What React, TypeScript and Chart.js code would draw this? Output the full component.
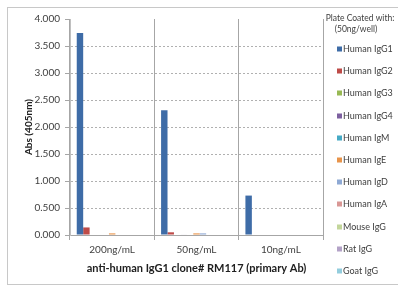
import React, { useEffect, useRef } from "react";
import { Chart, registerables } from "chart.js";

Chart.register(...registerables);

const categories = ["200ng/mL", "50ng/mL", "10ng/mL"];
const seriesNames = [
  "Human IgG1",
  "Human IgG2",
  "Human IgG3",
  "Human IgG4",
  "Human IgM",
  "Human IgE",
  "Human IgD",
  "Human IgA",
  "Mouse IgG",
  "Rat IgG",
  "Goat IgG",
];
const humanIgG1 = [3.74, 2.31, 0.73];
const humanIgG2 = [0.14, 0.05, 0];
const humanIgG3 = [0, 0, 0];
const humanIgG4 = [0, 0.01, 0];
const humanIgM = [0, 0, 0];
const humanIgE = [0.03, 0.03, 0];
const humanIgD = [0, 0.03, 0];
const humanIgA = [0, 0, 0];
const mouseIgG = [0, 0, 0];
const ratIgG = [0, 0, 0];
const goatIgG = [0, 0, 0];
const seriesValues = [
  humanIgG1, humanIgG2, humanIgG3, humanIgG4, humanIgM, humanIgE,
  humanIgD, humanIgA, mouseIgG, ratIgG, goatIgG,
];
const seriesColors = [
  "#3E6CA7", "#BE4B48", "#98B954", "#7D60A0", "#46AAC5", "#E8944A",
  "#8EA9D4", "#D99795", "#C3D69B", "#B3A2C7", "#93CDDD",
];
const yTicks = [0, 0.5, 1, 1.5, 2, 2.5, 3, 3.5, 4];
const xTitle = "anti-human IgG1 clone# RM117 (primary Ab)";
const yTitle = "Abs (405nm)";
const legendTitle = ["Plate Coated with:", "(50ng/well)"];

const FONT = "Lato, 'Open Sans', sans-serif";

const framePlugin = {
  id: "frameAndLegend",
  afterDraw(chart: any) {
    const ctx = chart.ctx;
    ctx.save();
    ctx.strokeStyle = "#c8c8c8";
    ctx.lineWidth = 1;
    ctx.strokeRect(7.5, 7.5, 400, 277);

    ctx.fillStyle = "#404040";
    ctx.font = `8.5px ${FONT}`;
    ctx.textAlign = "center";
    ctx.textBaseline = "middle";
    ctx.fillText(legendTitle[0], 360, 18);
    ctx.fillText(legendTitle[1], 356, 29);

    ctx.font = `9px ${FONT}`;
    ctx.textAlign = "left";
    chart.data.datasets.forEach((ds: any, i: number) => {
      const y = 49 + 22.2 * i;
      ctx.fillStyle = ds.backgroundColor;
      ctx.fillRect(337, Math.round(y) - 2.5, 5, 5);
      ctx.fillStyle = "#404040";
      ctx.fillText(ds.label, 343, y);
    });
    ctx.restore();
  },
};

export default function App() {
  const ref = useRef<HTMLCanvasElement>(null);

  useEffect(() => {
    if (!ref.current) return;
    const chart = new Chart(ref.current, {
      type: "bar",
      data: {
        labels: categories,
        datasets: seriesNames.map((name, i) => ({
          label: name,
          data: seriesValues[i],
          backgroundColor: seriesColors[i],
          borderWidth: 0,
          barPercentage: 1,
          categoryPercentage: 0.84,
        })),
      },
      options: {
        animation: false,
        responsive: false,
        devicePixelRatio: 1,
        layout: { padding: { left: 0, top: 19, right: 75, bottom: 0 } },
        plugins: {
          legend: { display: false },
          tooltip: { enabled: false },
        },
        scales: {
          x: {
            offset: true,
            grid: {
              offset: true,
              color: "#a6a6a6",
              tickLength: 5,
              tickColor: "#a6a6a6",
            },
            border: { color: "#a6a6a6" },
            ticks: {
              font: { family: FONT, size: 10 },
              color: "#404040",
              padding: 4,
            },
            title: {
              display: true,
              text: xTitle,
              font: { family: FONT, size: 11, weight: "bold" },
              color: "#202020",
              padding: { top: 0, bottom: 11 },
            },
            afterFit: (s: any) => {
              s.height = 51;
            },
          },
          y: {
            min: 0,
            max: 4,
            afterBuildTicks: (s: any) => {
              s.ticks = yTicks.map((v) => ({ value: v }));
            },
            ticks: {
              callback: (v: any) => Number(v).toFixed(3),
              font: { family: FONT, size: 10 },
              color: "#404040",
              padding: 5,
            },
            grid: {
              color: (c: any) =>
                c.tick && (c.tick.value === 0 || c.tick.value === 4)
                  ? "rgba(0,0,0,0)"
                  : "#b0b0b0",
              tickColor: "#a6a6a6",
              tickLength: 5,
              tickBorderDash: [],
            },
            border: { color: "#c0c0c0", dash: [2, 2] },
            title: {
              display: true,
              text: yTitle,
              font: { family: FONT, size: 10, weight: "bold" },
              color: "#202020",
              padding: { top: 23, bottom: 0 },
            },
            afterFit: (s: any) => {
              s.width = 70;
            },
          },
        },
      },
      plugins: [framePlugin],
    } as any);
    return () => chart.destroy();
  }, []);

  return (
    <div style={{ position: "fixed", left: 0, top: 0, width: 398, height: 286, background: "#fff" }}>
      <canvas ref={ref} width={398} height={286} style={{ display: "block" }} />
    </div>
  );
}
